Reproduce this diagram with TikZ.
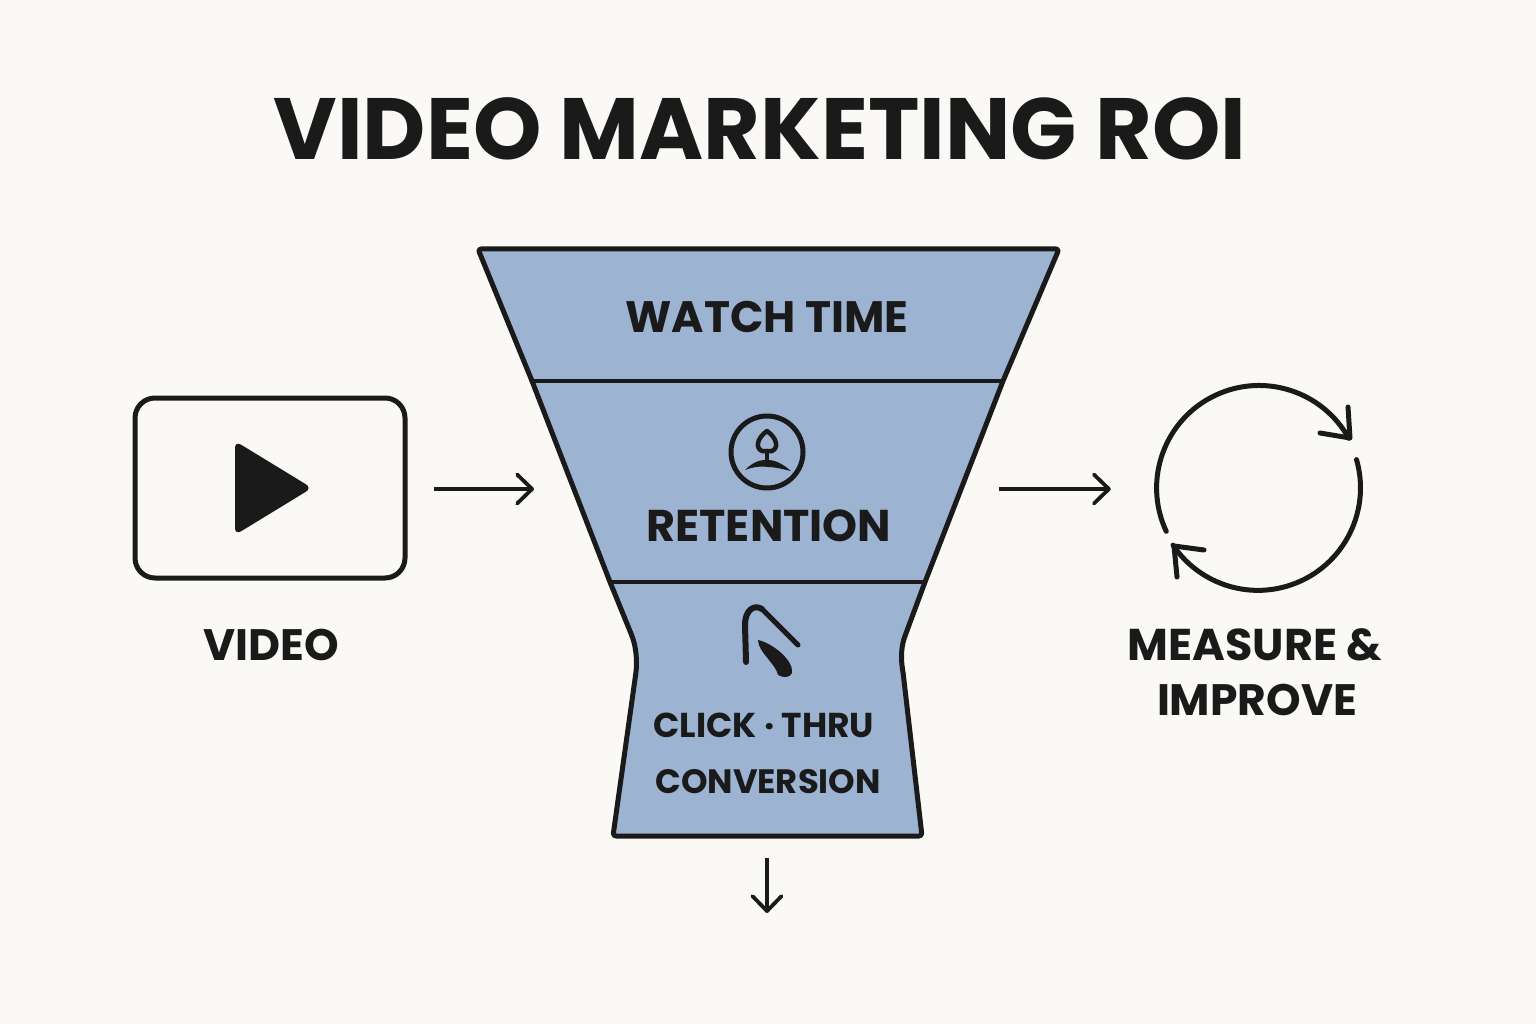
\documentclass[tikz,border=0pt]{standalone}
\usepackage{fontspec}
\setmainfont{Poppins}
\usetikzlibrary{arrows.meta, positioning}
\definecolor{paper}{HTML}{FBF9F5}
\definecolor{funnelblue}{HTML}{9DB3D2}
\definecolor{ink}{HTML}{1A1A1A}
\tikzset{
    label text/.style={font=\fontsize{#1}{#1}\selectfont\bfseries, text=ink, inner sep=0pt},
    icon line/.style={draw=ink, line width=5pt, line cap=round, line join=round},
    flow/.style={draw=ink, line width=3.8pt, -{Straight Barb[length=15pt,width=29pt,line width=3.8pt,round]}},
}

\begin{document}
\begin{tikzpicture}[x=1pt,y=-1pt,shorten >=0pt]
        \fill[paper] (0,0) rectangle (1536,1024);

        \node[label text=87] (title) at (760,129) {VIDEO MARKETING ROI};

        % video box
        \node[icon line, draw, rounded corners=20pt, minimum width=270pt, minimum height=180pt] (video) at (270,488) {};
        \fill[ink, rounded corners=7pt] (235,441) -- (312,488) -- (235,535) -- cycle;
        \node[label text=44] (videotext) at (271,645) {VIDEO};

        % funnel
        \path[fill=funnelblue, draw=ink, line width=5pt, line join=round, rounded corners=3pt]
        (478,249) -- (1059,249) -- (1003,381) -- (925,582) -- (905,636)
        .. controls (901,648) and (901,660) .. (903,672)
        -- (922,836) -- (613,836) -- (636,672)
        .. controls (637,660) and (636,648) .. (632,636)
        -- (610,582) -- (532,381) -- cycle;
        \draw[ink, line width=4.5pt] (532,381) -- (1003,381);
        \draw[ink, line width=4.5pt] (610,582) -- (925,582);

        \node[label text=44] (watch) at (767,317) {WATCH TIME};
        \node[label text=44.5] (retention) at (769,526) {RETENTION};
        \node[label text=34.5] (click) at (764,725) {CLICK · THRU};
        \node[label text=33.8] (conversion) at (768,782) {CONVERSION};

        % retention icon
        \node[icon line, draw, circle, minimum size=72pt, inner sep=0pt] (person) at (767,452) {};
        \draw[icon line, line width=4.5pt] (767,431) .. controls (757,438) and (755,448) .. (762,451)
        -- (772,451) .. controls (779,448) and (777,438) .. (767,431);
        \draw[icon line, line width=4.5pt] (767,451) -- (767,462);
        \fill[ink] (745,470) .. controls (755,460) and (762,460) .. (768,460)
        .. controls (775,460) and (783,464) .. (791,471)
        .. controls (782,469) and (775,467) .. (768,467)
        .. controls (760,466) and (752,467) .. (745,470) -- cycle;

        % click icon
        \draw[icon line, line width=6pt] (746,662) -- (745,625) .. controls (745,610) and (754,604) .. (762,609);
        \draw[icon line] (762,609) -- (798,645);
        \fill[ink] (758,640) .. controls (772,643) and (794,660) .. (792,673)
        .. controls (790,678) and (783,678) .. (778,675)
        .. controls (776,664) and (758,652) .. (758,640) -- cycle;

        % loop
        \node[circle, minimum size=206pt, inner sep=0pt] (loop) at (1259,488) {};
        \draw[icon line] (1166.2,531.3) arc[start angle=155, end angle=331, radius=102.5];
        \draw[icon line] (1348,407) -- (1350,438) -- (1320,433);
        \draw[icon line] (1356.5,459.6) arc[start angle=-16, end angle=146, radius=102.5];
        \draw[icon line] (1204,550) -- (1174,546) -- (1177,577);
        \node[label text=44.5] (measure) at (1255,645) {MEASURE \&};
        \node[label text=44] (improve) at (1257,700) {IMPROVE};

        % connectors
        \coordinate (funnelin) at (534,489);
        \coordinate (funnelout) at (999,489);
        \coordinate (funnelbottom) at (767,858);
        \coordinate (funnelend) at (767,913);

        \path
        (video.east |- funnelin) edge [flow, shorten <=26.5pt] (funnelin)
        (funnelout) edge [flow, shorten >=45pt] (loop.west |- funnelout)
        (funnelbottom) edge [flow] (funnelend)
        ;

    \end{tikzpicture}
\end{document}
